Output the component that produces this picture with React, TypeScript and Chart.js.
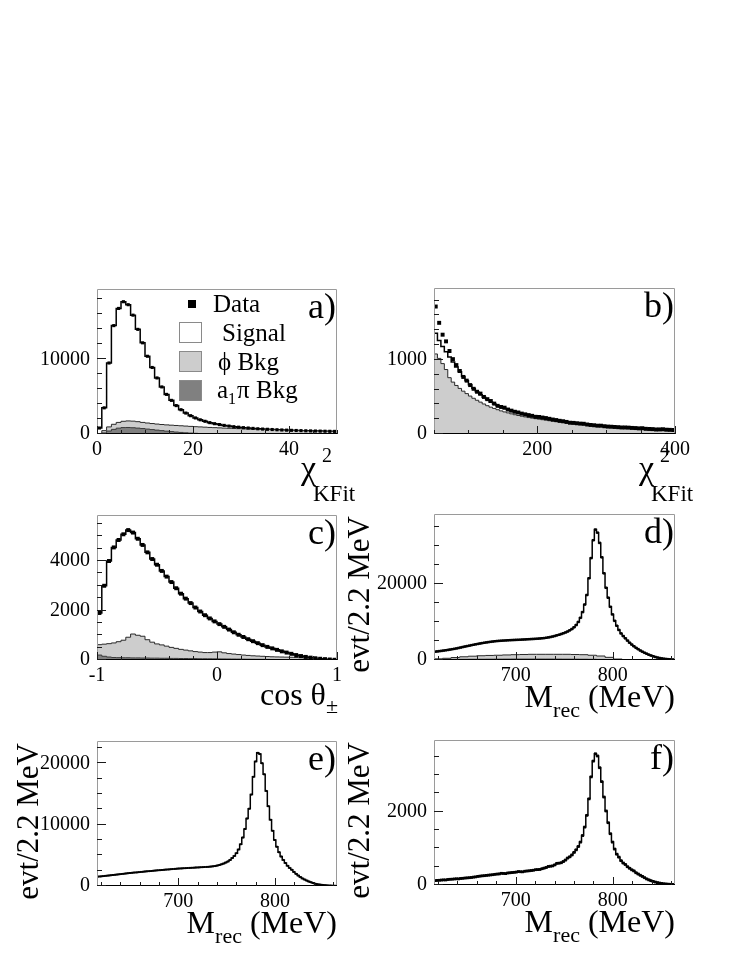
import React, { useEffect, useRef } from 'react';
import { Chart, registerables } from 'chart.js';

Chart.register(...registerables);

const FONT = '"Liberation Serif", "Times New Roman", serif';
const PAGE_W = 747;
const PAGE_H = 967;
const PHI_COLOR = '#cdcdcd';
const A1_COLOR = '#808080';

// ---------- Panel a: chi2 KFit, bins of 1 from 0 ----------
const aXTicks = [0, 20, 40];
const aYTicks = [0, 10000];
const aCounts = [800, 3500, 9500, 14500, 16800, 17700, 17300, 15900, 14000, 12200,
  10400, 8900, 7500, 6300, 5300, 4500, 3800, 3250, 2800, 2450,
  2150, 1900, 1700, 1520, 1380, 1260, 1150, 1060, 980, 910,
  850, 800, 750, 700, 660, 630, 600, 570, 540, 515,
  490, 470, 450, 430, 415, 400, 385, 370, 360, 350];
const aPhi = [40, 300, 550, 680, 770, 840, 880, 880, 860, 820,
  810, 810, 810, 820, 840, 860, 880, 890, 900, 900,
  890, 885, 870, 850, 830, 805, 780, 757, 734, 710,
  686, 662, 642, 623, 603, 588, 574, 549, 524, 499,
  477, 457, 437, 419, 404, 389, 375, 361, 351, 341];
const aA1 = [20, 150, 400, 620, 780, 860, 870, 840, 790, 730,
  660, 590, 520, 450, 380, 320, 260, 210, 160, 120,
  90, 65, 45, 30, 20, 15, 10, 8, 6, 5,
  4, 3, 3, 2, 2, 2, 1, 1, 1, 1,
  1, 1, 1, 1, 1, 1, 1, 1, 1, 1];

// ---------- Panel b: chi2 KFit control region, bins of 5 from 50 ----------
const bXTicks = [200, 400];
const bYTicks = [0, 1000];
const bData = [1720, 1500, 1340, 1250, 1120, 1010, 930, 850, 770, 720,
  660, 610, 570, 545, 500, 470, 445, 410, 380, 365,
  355, 330, 315, 300, 290, 275, 265, 255, 245, 232,
  230, 222, 215, 205, 195, 188, 178, 172, 163, 152,
  150, 145, 140, 138, 128, 122, 118, 112, 112, 105,
  100, 98, 95, 92, 88, 88, 86, 82, 80, 76,
  78, 70, 68, 66, 61, 62, 64, 58, 56, 54];
const bMC = [1360, 1260, 1180, 1110, 1040, 970, 905, 840, 775, 720,
  665, 615, 570, 530, 495, 462, 432, 405, 382, 362,
  345, 328, 312, 298, 285, 273, 262, 252, 243, 235,
  227, 219, 211, 203, 195, 188, 180, 173, 166, 160,
  154, 148, 142, 136, 131, 126, 121, 116, 112, 108,
  104, 100, 97, 94, 91, 88, 85, 82, 79, 76,
  74, 72, 70, 68, 66, 64, 62, 60, 58, 56];
const bPhi = [1080, 1020, 950, 870, 760, 700, 655, 615, 578, 545,
  512, 482, 455, 430, 405, 382, 362, 345, 328, 312,
  298, 285, 272, 260, 250, 240, 231, 222, 214, 207,
  200, 193, 186, 179, 173, 166, 160, 154, 148, 143,
  138, 133, 128, 123, 118, 114, 110, 106, 102, 98,
  95, 92, 89, 86, 83, 80, 78, 75, 73, 70,
  68, 66, 64, 62, 60, 58, 57, 55, 53, 52];

// ---------- Panel c: cos theta, bins of 0.04 from -1 ----------
const cXTicks = [-1, 0, 1];
const cYTicks = [0, 2000, 4000];
const cCounts = [1900, 3000, 4000, 4550, 4850, 5080, 5250, 5150, 4900, 4650,
  4350, 4080, 3850, 3600, 3370, 3150, 2900, 2680, 2480, 2300,
  2120, 1960, 1810, 1680, 1560, 1450, 1340, 1230, 1120, 1020,
  930, 840, 760, 680, 600, 530, 470, 410, 350, 300,
  250, 200, 160, 125, 95, 70, 50, 35, 20, 10];
const cPhi = [420, 490, 540, 590, 645, 710, 830, 965, 915, 880,
  740, 645, 575, 540, 490, 445, 405, 370, 340, 315,
  285, 270, 250, 252, 274, 286, 248, 220, 202, 184,
  166, 153, 140, 132, 124, 116, 108, 105, 102, 99,
  96, 88, 80, 71, 62, 53, 36, 25, 14, 7];
const cA1 = [200, 150, 120, 100, 95, 90, 90, 85, 85, 80,
  80, 75, 75, 70, 70, 65, 65, 60, 60, 55,
  55, 50, 50, 48, 46, 44, 42, 40, 38, 36,
  34, 32, 30, 28, 26, 24, 22, 20, 18, 16,
  14, 12, 10, 9, 8, 7, 6, 5, 4, 3];

// ---------- Panels d, e, f: M_rec, bins of 2.2 MeV from 616 ----------
const mXTicks = [700, 800];
const dYTicks = [0, 20000];
const eYTicks = [0, 10000, 20000];
const fYTicks = [0, 2000];
const dCounts = [2200, 2260, 2330, 2400, 2480, 2560, 2650, 2740, 2840, 2940, 3050, 3170, 3290, 3420,
  3540, 3660, 3780, 3900, 4010, 4120, 4230, 4340, 4440, 4540, 4630, 4710, 4790, 4860, 4930, 4990,
  5040, 5080, 5110, 5150, 5180, 5210, 5240, 5270, 5300, 5320, 5350, 5380, 5410, 5440, 5470, 5510, 5540, 5580, 5620, 5660, 5710, 5760,
  5850, 5950, 6050, 6180, 6320, 6480, 6650, 6830, 7020, 7250, 7500, 7800, 8150, 8600, 9200, 10000, 11100,
  12600, 14600, 17100, 21500, 26800, 31500, 34300, 33500, 30800, 27000, 22800, 19000,
  16400, 14000, 12000, 10300, 9000, 7900, 7000, 6300, 5700, 5100, 4550, 4050, 3600, 3200, 2850, 2500,
  2200, 1900, 1650, 1400, 1180, 980, 800, 650, 520, 420, 340, 270, 210, 170, 130, 100];
// d backgrounds, bins of 8.8 MeV from 616
const dPhi = [150, 290, 480, 670, 810, 920, 990, 1030, 1100, 1160, 1210, 1260, 1260, 1260, 1270,
  1280, 1240, 1200, 1070, 900, 590, 190, 50, 25, 12, 6, 3, 2, 1];
const dA1 = [150, 160, 170, 180, 190, 200, 210, 220, 230, 240, 240, 240, 240, 240, 230,
  220, 210, 200, 180, 150, 110, 60, 30, 15, 8, 4, 2, 1, 1];
const eCounts = [1530, 1560, 1600, 1640, 1680, 1710, 1750, 1790, 1830, 1870, 1910, 1950, 1990, 2040,
  2080, 2110, 2150, 2190, 2220, 2260, 2290, 2320, 2360, 2390, 2420, 2450, 2490,
  2520, 2550, 2580, 2610, 2640, 2670, 2700, 2730, 2760, 2790, 2830,
  2850, 2870, 2890, 2910, 2930, 2950, 2970, 2990, 3010, 3030, 3050, 3070, 3090, 3110, 3130, 3160, 3200, 3250, 3330,
  3420, 3530, 3660, 3820, 4000, 4250, 4550, 4900, 5350, 5950, 6800, 7900, 9300, 11000,
  12600, 14900, 17800, 20300, 21700, 21500, 20000, 18200, 15500, 13000, 10800, 9000, 7500, 6400, 5500, 4800, 4250, 3750, 3300, 2950, 2650,
  2300, 1980, 1700, 1450, 1240, 1050, 880, 730, 600, 480, 380, 300, 240, 190, 150, 115, 90, 70, 55, 40, 30];
const fCounts = [120, 125, 128, 135, 140, 138, 150, 155, 158, 165,
  170, 168, 178, 182, 190, 195, 200, 205, 215, 222,
  235, 242, 250, 255, 262, 268, 275, 282, 290, 298,
  302, 318, 315, 312, 328, 334, 340, 345, 352, 366,
  362, 360, 375, 382, 388, 395, 402, 418, 420, 424,
  445, 460, 478, 505, 512, 522, 550, 590, 595, 608,
  640, 680, 735, 770, 820, 890, 960, 1050, 1170, 1350,
  1580, 1900, 2350, 2950, 3380, 3580, 3520, 3200, 2820, 2400,
  2020, 1700, 1400, 1170, 980, 840, 760, 665, 600, 560,
  500, 455, 415, 385, 335, 300, 265, 235, 200, 165,
  140, 118, 98, 80, 65, 52, 42, 34, 28, 22,
  18, 15, 12];

type Axis = { min: number; max: number; ticks: number[]; minor: number };
type Box = { l: number; t: number; r: number; b: number };
type PanelSpec = {
  key: string;
  label: string;
  box: Box;
  x: Axis;
  y: Axis;
  binStart: number;
  binWidth: number;
  data: number[];
  mc: number[];
  phi?: number[];
  a1?: number[];
  bkgStart: number;
  bkgWidth: number;
  markerR: number;
  xTitle: 'chi' | 'cos' | 'mrec';
  yTitleX?: number;
  legend?: boolean;
};

const panels: PanelSpec[] = [
  { key: 'a', label: 'a)', box: { l: 97, t: 289, r: 337, b: 434 },
    x: { min: 0, max: 50, ticks: aXTicks, minor: 5 }, y: { min: 0, max: 19400, ticks: aYTicks, minor: 2000 },
    binStart: 0, binWidth: 1, data: aCounts, mc: aCounts, phi: aPhi, a1: aA1, bkgStart: 0, bkgWidth: 1,
    markerR: 2.2, xTitle: 'chi', legend: true },
  { key: 'b', label: 'b)', box: { l: 434, t: 288, r: 675, b: 434 },
    x: { min: 50, max: 400, ticks: bXTicks, minor: 50 }, y: { min: 0, max: 1970, ticks: bYTicks, minor: 200 },
    binStart: 50, binWidth: 5, data: bData, mc: bMC, phi: bPhi, bkgStart: 50, bkgWidth: 5,
    markerR: 2.8, xTitle: 'chi' },
  { key: 'c', label: 'c)', box: { l: 97, t: 515, r: 337, b: 660 },
    x: { min: -1, max: 1, ticks: cXTicks, minor: 0.2 }, y: { min: 0, max: 5860, ticks: cYTicks, minor: 500 },
    binStart: -1, binWidth: 0.04, data: cCounts, mc: cCounts, phi: cPhi, a1: cA1, bkgStart: -1, bkgWidth: 0.04,
    markerR: 2.8, xTitle: 'cos' },
  { key: 'd', label: 'd)', box: { l: 434, t: 514, r: 675, b: 660 },
    x: { min: 616, max: 864, ticks: mXTicks, minor: 20 }, y: { min: 0, max: 38400, ticks: dYTicks, minor: 5000 },
    binStart: 616, binWidth: 2.2, data: dCounts, mc: dCounts, phi: dPhi, a1: dA1, bkgStart: 616, bkgWidth: 8.8,
    markerR: 1.8, xTitle: 'mrec', yTitleX: 369 },
  { key: 'e', label: 'e)', box: { l: 97, t: 741, r: 337, b: 886 },
    x: { min: 616, max: 864, ticks: mXTicks, minor: 20 }, y: { min: 0, max: 23630, ticks: eYTicks, minor: 2500 },
    binStart: 616, binWidth: 2.2, data: eCounts, mc: eCounts, bkgStart: 616, bkgWidth: 2.2,
    markerR: 1.4, xTitle: 'mrec', yTitleX: 38 },
  { key: 'f', label: 'f)', box: { l: 434, t: 740, r: 675, b: 885 },
    x: { min: 616, max: 864, ticks: mXTicks, minor: 20 }, y: { min: 0, max: 3956, ticks: fYTicks, minor: 500 },
    binStart: 616, binWidth: 2.2, data: fCounts, mc: fCounts, bkgStart: 616, bkgWidth: 2.2,
    markerR: 2.0, xTitle: 'mrec', yTitleX: 369 },
];

function histPoints(start: number, width: number, vals: number[]) {
  const pts = vals.map((v, i) => ({ x: start + i * width, y: v }));
  pts.push({ x: start + vals.length * width, y: vals[vals.length - 1] });
  return pts;
}

function tickValues(ax: Axis) {
  const out: { v: number; major: boolean }[] = [];
  const k0 = Math.ceil(ax.min / ax.minor - 1e-6);
  const k1 = Math.floor(ax.max / ax.minor + 1e-6);
  for (let k = k0; k <= k1; k++) {
    const v = k * ax.minor;
    const major = ax.ticks.some((t) => Math.abs(t - v) < ax.minor * 1e-3);
    out.push({ v, major });
  }
  return out;
}

function decorPlugin(p: PanelSpec) {
  return {
    id: 'decor_' + p.key,
    afterDraw(chart: any) {
      const { ctx, chartArea: ca } = chart;
      const xs = chart.scales.x;
      const ys = chart.scales.y;
      ctx.save();
      // frame
      ctx.lineWidth = 1;
      ctx.strokeStyle = '#9a9a9a';
      ctx.beginPath();
      ctx.moveTo(ca.left + 0.5, ca.bottom);
      ctx.lineTo(ca.left + 0.5, ca.top + 0.5);
      ctx.lineTo(ca.right - 0.5, ca.top + 0.5);
      ctx.lineTo(ca.right - 0.5, ca.bottom);
      ctx.stroke();
      ctx.strokeStyle = '#000';
      ctx.beginPath();
      ctx.moveTo(ca.left, ca.bottom - 0.5);
      ctx.lineTo(ca.right, ca.bottom - 0.5);
      ctx.stroke();
      // ticks (inward)
      ctx.strokeStyle = '#1a1a1a';
      ctx.beginPath();
      for (const t of tickValues(p.y)) {
        const py = Math.round(ys.getPixelForValue(t.v)) - 0.5;
        ctx.moveTo(ca.left, py);
        ctx.lineTo(ca.left + (t.major ? 9 : 5), py);
      }
      for (const t of tickValues(p.x)) {
        const px = Math.round(xs.getPixelForValue(t.v)) + 0.5;
        ctx.moveTo(px, ca.bottom);
        ctx.lineTo(px, ca.bottom - (t.major ? 8 : 4));
      }
      ctx.stroke();

      ctx.fillStyle = '#000';
      ctx.textBaseline = 'alphabetic';
      // panel label
      ctx.font = `36px ${FONT}`;
      ctx.textAlign = 'right';
      ctx.fillText(p.label, ca.right - 1, ca.top + 29);

      // x title
      ctx.textAlign = 'left';
      if (p.xTitle === 'chi') {
        const x0 = ca.right - 36;
        const base = ca.bottom + 45;
        ctx.font = `34px ${FONT}`;
        ctx.fillText('χ', x0, base);
        ctx.font = `20px ${FONT}`;
        ctx.fillText('2', x0 + 21, base - 17);
        ctx.font = `23px ${FONT}`;
        ctx.fillText('KFit', x0 + 12, base + 22);
      } else if (p.xTitle === 'cos') {
        const base = ca.bottom + 45;
        ctx.font = `32px ${FONT}`;
        const w1 = ctx.measureText('cos θ').width;
        ctx.font = `22px ${FONT}`;
        const w2 = ctx.measureText('±').width;
        const x0 = ca.right + 1 - w1 - w2;
        ctx.font = `32px ${FONT}`;
        ctx.fillText('cos θ', x0, base);
        ctx.font = `22px ${FONT}`;
        ctx.fillText('±', x0 + w1, base + 8);
      } else {
        const base = ca.bottom + 47;
        ctx.font = `32px ${FONT}`;
        const wM = ctx.measureText('M').width;
        const wP = ctx.measureText(' (MeV)').width;
        ctx.font = `22px ${FONT}`;
        const wR = ctx.measureText('rec').width;
        const x0 = ca.right - wM - wR - wP;
        ctx.font = `32px ${FONT}`;
        ctx.fillText('M', x0, base);
        ctx.fillText(' (MeV)', x0 + wM + wR, base);
        ctx.font = `22px ${FONT}`;
        ctx.fillText('rec', x0 + wM, base + 10);
      }

      // y title
      if (p.yTitleX !== undefined) {
        ctx.save();
        ctx.translate(p.yTitleX, ca.top + 2);
        ctx.rotate(-Math.PI / 2);
        ctx.font = `31px ${FONT}`;
        ctx.textAlign = 'right';
        ctx.fillText('evt/2.2 MeV', 0, 0);
        ctx.restore();
      }

      // legend
      if (p.legend) {
        const L = ca.left;
        const T = ca.top;
        ctx.fillStyle = '#000';
        ctx.fillRect(L + 91, T + 11, 8, 8);
        const boxes = [
          { y: 33, fill: '#ffffff' },
          { y: 62, fill: PHI_COLOR },
          { y: 91, fill: A1_COLOR },
        ];
        ctx.lineWidth = 1;
        for (const b of boxes) {
          ctx.fillStyle = b.fill;
          ctx.fillRect(L + 82.5, T + b.y + 0.5, 22, 20);
          ctx.strokeStyle = '#8a8a8a';
          ctx.strokeRect(L + 82.5, T + b.y + 0.5, 22, 20);
        }
        ctx.fillStyle = '#000';
        ctx.textAlign = 'left';
        ctx.font = `25px ${FONT}`;
        ctx.fillText('Data', L + 116, T + 23);
        ctx.fillText('Signal', L + 125, T + 52);
        ctx.fillText('ϕ Bkg', L + 121, T + 81);
        ctx.fillText('a', L + 120, T + 109);
        const wa = ctx.measureText('a').width;
        ctx.font = `16px ${FONT}`;
        ctx.fillText('1', L + 120 + wa, T + 115);
        const w1 = ctx.measureText('1').width;
        ctx.font = `25px ${FONT}`;
        ctx.fillText('π Bkg', L + 121 + wa + w1, T + 109);
      }
      ctx.restore();
    },
  };
}

function buildChart(canvas: HTMLCanvasElement, p: PanelSpec) {
  const datasets: any[] = [];
  datasets.push({
    label: 'Data',
    data: p.data.map((v, i) => ({ x: p.binStart + (i + 0.5) * p.binWidth, y: v })),
    showLine: false,
    pointStyle: 'rect',
    pointRadius: p.markerR,
    pointBackgroundColor: '#000',
    pointBorderColor: '#000',
    pointBorderWidth: 0,
    borderColor: '#000',
  });
  if (p.a1) {
    datasets.push({
      label: 'a1pi Bkg',
      data: histPoints(p.bkgStart, p.bkgWidth, p.a1),
      stepped: 'before',
      fill: 'origin',
      backgroundColor: A1_COLOR,
      borderColor: '#3a3a3a',
      borderWidth: 1,
      pointRadius: 0,
    });
  }
  if (p.phi) {
    const top = p.phi.map((v, i) => v + (p.a1 ? p.a1[i] : 0));
    datasets.push({
      label: 'phi Bkg',
      data: histPoints(p.bkgStart, p.bkgWidth, top),
      stepped: 'before',
      fill: 'origin',
      backgroundColor: PHI_COLOR,
      borderColor: '#2a2a2a',
      borderWidth: 1,
      pointRadius: 0,
    });
  }
  datasets.push({
    label: 'Signal',
    data: histPoints(p.binStart, p.binWidth, p.mc),
    stepped: 'before',
    fill: false,
    borderColor: '#000',
    borderWidth: 1.5,
    pointRadius: 0,
  });

  const tickFont = { family: FONT, size: 20 };
  return new Chart(canvas, {
    type: 'line',
    data: { datasets },
    options: {
      animation: false,
      responsive: false,
      devicePixelRatio: 1,
      events: [],
      layout: { padding: { left: 0, top: p.box.t, right: PAGE_W - p.box.r, bottom: 0 } },
      plugins: { legend: { display: false }, tooltip: { enabled: false }, title: { display: false } },
      elements: { line: { tension: 0 } },
      scales: {
        x: {
          type: 'linear',
          min: p.x.min,
          max: p.x.max,
          afterBuildTicks: (s: any) => { s.ticks = p.x.ticks.map((v) => ({ value: v })); },
          afterFit: (s: any) => { s.height = PAGE_H - p.box.b; },
          ticks: { font: tickFont, color: '#000', padding: 4, maxRotation: 0, autoSkip: false, callback: (v: any) => String(v) },
          grid: { display: false, drawTicks: false },
          border: { display: false },
        },
        y: {
          type: 'linear',
          min: p.y.min,
          max: p.y.max,
          afterBuildTicks: (s: any) => { s.ticks = p.y.ticks.map((v) => ({ value: v })); },
          afterFit: (s: any) => { s.width = p.box.l; },
          ticks: { font: tickFont, color: '#000', padding: 7, autoSkip: false, callback: (v: any) => String(v) },
          grid: { display: false, drawTicks: false },
          border: { display: false },
        },
      },
    } as any,
    plugins: [decorPlugin(p)],
  });
}

function PanelCanvas({ spec }: { spec: PanelSpec }) {
  const ref = useRef<HTMLCanvasElement>(null);
  useEffect(() => {
    if (!ref.current) return;
    const chart = buildChart(ref.current, spec);
    return () => chart.destroy();
  }, [spec]);
  return (
    <canvas
      ref={ref}
      width={PAGE_W}
      height={PAGE_H}
      style={{ position: 'absolute', left: 0, top: 0, width: PAGE_W, height: PAGE_H }}
    />
  );
}

export default function App() {
  return (
    <div style={{ position: 'fixed', left: 0, top: 0, width: PAGE_W, height: PAGE_H, background: '#fff' }}>
      {panels.map((p) => (
        <PanelCanvas key={p.key} spec={p} />
      ))}
    </div>
  );
}
